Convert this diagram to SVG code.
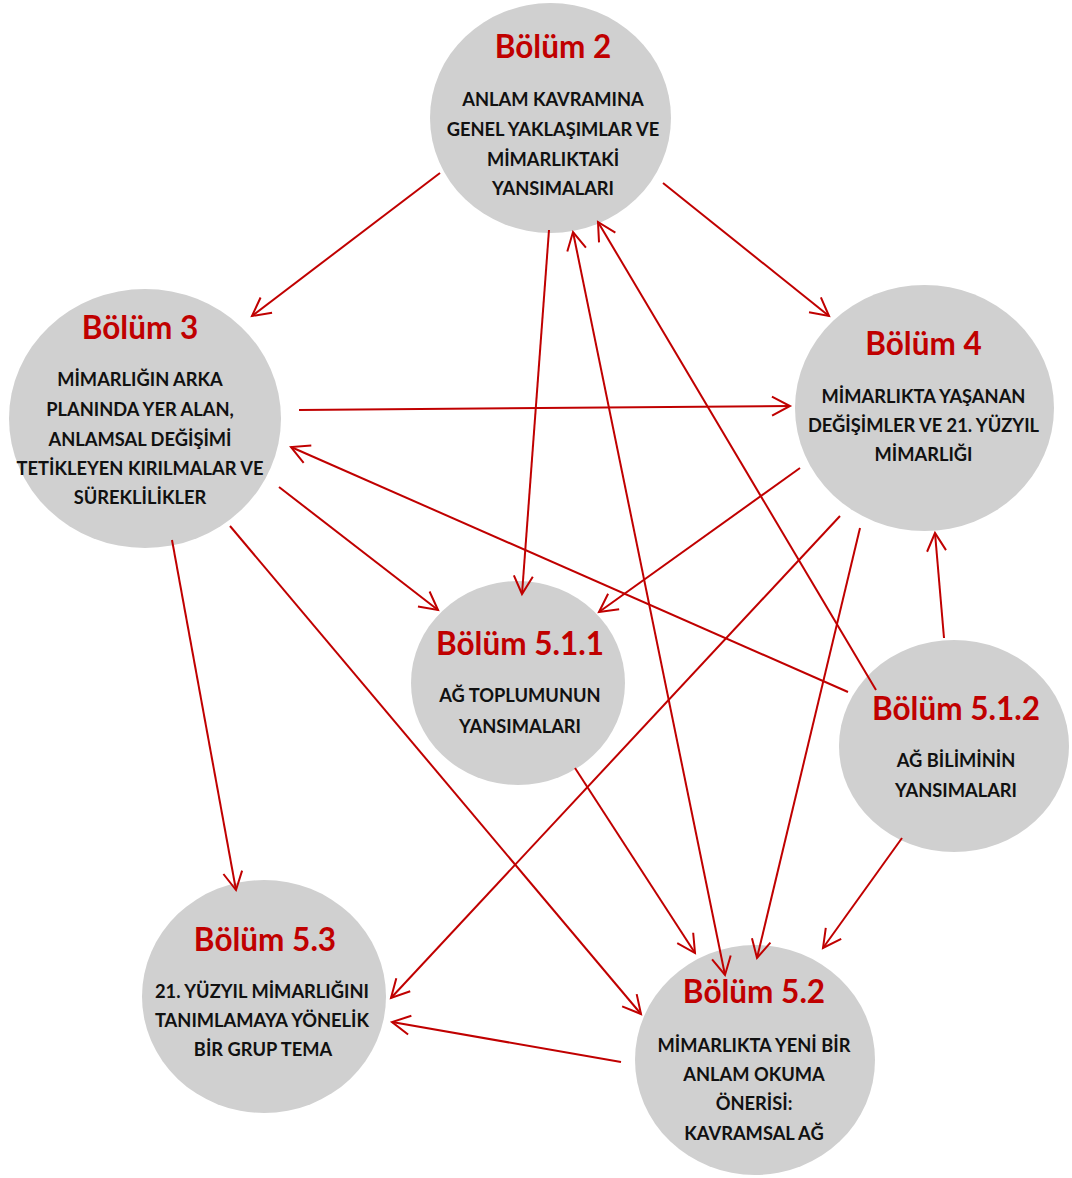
<svg xmlns="http://www.w3.org/2000/svg" width="1072" height="1178" viewBox="0 0 1072 1178">
  <style>
    .node { fill: #d0d0d0; }
    .title { font-family: Lato, "Open Sans", sans-serif; font-weight: 700; font-size: 31.5px; fill: #c00000; text-anchor: middle; }
    .body { font-family: Lato, "Open Sans", sans-serif; font-weight: 700; font-size: 18.3px; fill: #111111; text-anchor: middle; }
    .link { fill: none; stroke: #c00000; stroke-width: 2; marker-end: url(#arr); }
  </style>
  <defs>
    <marker id="arr" markerUnits="userSpaceOnUse" markerWidth="40" markerHeight="40" refX="0" refY="0" orient="auto-start-reverse" overflow="visible">
      <path d="M-18,-9.5 L0,0 L-18,9.5" fill="none" stroke="#c00000" stroke-width="2"/>
    </marker>
  </defs>

  <rect width="1072" height="1178" fill="#ffffff"/>

  <g id="bolum-2">
    <ellipse class="node" cx="550.5" cy="118" rx="120.5" ry="115"/>
    <text class="title" x="553" y="58">Bölüm 2</text>
    <text class="body" x="553" y="106">ANLAM KAVRAMINA</text>
    <text class="body" x="553" y="136">GENEL YAKLAŞIMLAR VE</text>
    <text class="body" x="553" y="166">MİMARLIKTAKİ</text>
    <text class="body" x="553" y="195">YANSIMALARI</text>
  </g>

  <g id="bolum-3">
    <ellipse class="node" cx="145" cy="418.5" rx="136" ry="129.5"/>
    <text class="title" x="140" y="339">Bölüm 3</text>
    <text class="body" x="140" y="386">MİMARLIĞIN ARKA</text>
    <text class="body" x="140" y="416">PLANINDA YER ALAN,</text>
    <text class="body" x="140" y="446">ANLAMSAL DEĞİŞİMİ</text>
    <text class="body" x="140" y="475">TETİKLEYEN KIRILMALAR VE</text>
    <text class="body" x="140" y="504">SÜREKLİLİKLER</text>
  </g>

  <g id="bolum-4">
    <ellipse class="node" cx="924.5" cy="408" rx="129.5" ry="123"/>
    <text class="title" x="923.5" y="355">Bölüm 4</text>
    <text class="body" x="923.5" y="403">MİMARLIKTA YAŞANAN</text>
    <text class="body" x="923.5" y="432">DEĞİŞİMLER VE 21. YÜZYIL</text>
    <text class="body" x="923.5" y="461">MİMARLIĞI</text>
  </g>

  <g id="bolum-5-1-1">
    <ellipse class="node" cx="518" cy="683" rx="107" ry="102"/>
    <text class="title" x="520" y="655">Bölüm 5.1.1</text>
    <text class="body" x="520" y="702">AĞ TOPLUMUNUN</text>
    <text class="body" x="520" y="733">YANSIMALARI</text>
  </g>

  <g id="bolum-5-1-2">
    <ellipse class="node" cx="954" cy="746" rx="115" ry="106"/>
    <text class="title" x="956" y="720">Bölüm 5.1.2</text>
    <text class="body" x="956" y="767">AĞ BİLİMİNİN</text>
    <text class="body" x="956" y="797">YANSIMALARI</text>
  </g>

  <g id="bolum-5-3">
    <ellipse class="node" cx="264" cy="996.5" rx="122" ry="116.5"/>
    <text class="title" x="265" y="951">Bölüm 5.3</text>
    <text class="body" x="262" y="998">21. YÜZYIL MİMARLIĞINI</text>
    <text class="body" x="262" y="1027">TANIMLAMAYA YÖNELİK</text>
    <text class="body" x="263" y="1056">BİR GRUP TEMA</text>
  </g>

  <g id="bolum-5-2">
    <ellipse class="node" cx="755" cy="1060" rx="120" ry="115"/>
    <text class="title" x="754" y="1003">Bölüm 5.2</text>
    <text class="body" x="754" y="1052">MİMARLIKTA YENİ BİR</text>
    <text class="body" x="754" y="1081">ANLAM OKUMA</text>
    <text class="body" x="754" y="1110">ÖNERİSİ:</text>
    <text class="body" x="754" y="1140">KAVRAMSAL AĞ</text>
  </g>

  <g id="connectors">
    <!-- from Bölüm 2 -->
    <line class="link" x1="440" y1="173" x2="252" y2="316"/>
    <line class="link" x1="663" y1="183" x2="829" y2="316"/>
    <line class="link" x1="549" y1="230" x2="522" y2="594"/>
    <!-- Bölüm 2 and Bölüm 5.2, both ways -->
    <line class="link" x1="573" y1="232" x2="725" y2="975" style="marker-start:url(#arr)"/>
    <!-- from Bölüm 3 -->
    <line class="link" x1="299" y1="410" x2="790" y2="406"/>
    <line class="link" x1="279" y1="487" x2="438" y2="610"/>
    <line class="link" x1="230" y1="526" x2="641" y2="1014"/>
    <line class="link" x1="172" y1="540" x2="236" y2="890"/>
    <!-- from Bölüm 4 -->
    <line class="link" x1="800" y1="468" x2="599" y2="612"/>
    <line class="link" x1="840" y1="516" x2="391" y2="998"/>
    <line class="link" x1="860" y1="528" x2="757" y2="958"/>
    <!-- from Bölüm 5.1.1 -->
    <line class="link" x1="575" y1="768" x2="695" y2="953"/>
    <!-- from Bölüm 5.1.2 -->
    <line class="link" x1="876" y1="690" x2="598" y2="222"/>
    <line class="link" x1="848" y1="692" x2="291" y2="447"/>
    <line class="link" x1="944" y1="638" x2="935" y2="533"/>
    <line class="link" x1="902" y1="838" x2="823" y2="948"/>
    <!-- from Bölüm 5.2 -->
    <line class="link" x1="621" y1="1062" x2="392" y2="1022"/>
  </g>
</svg>
